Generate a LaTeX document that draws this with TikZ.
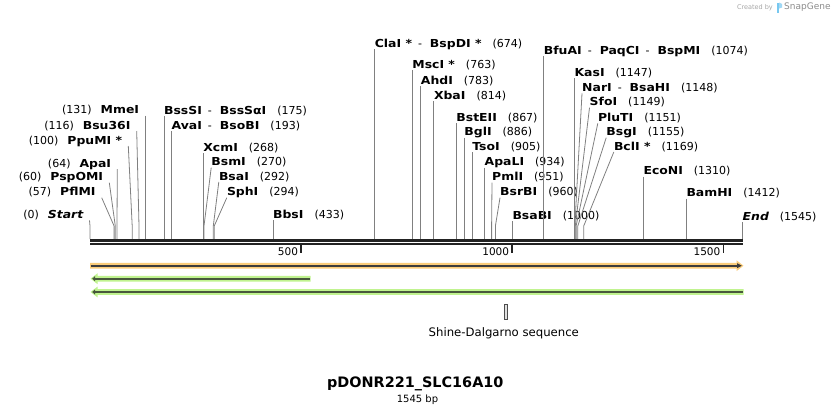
\documentclass[tikz,border=0pt]{standalone}
\usepackage{fontspec}
\setmainfont{DejaVu Sans}
\newfontfamily\enzfont{DejaVu Sans}[FakeStretch=1.13]
\newcommand\enz[1]{{\enzfont\bfseries #1}}
\newcommand\enzit[1]{{\enzfont\bfseries\itshape #1}}
\newcommand\gapN{\hspace{11pt}}
\newcommand\gapL{\hspace{9pt}}
\newcommand\sep{\hspace{6pt}-\hspace{8pt}}
\definecolor{featorange}{RGB}{250,204,122}
\definecolor{featgreen}{RGB}{192,243,143}
\definecolor{darkorange}{RGB}{60,60,60}
\definecolor{darkgreen}{RGB}{72,88,60}
\definecolor{mapblack}{RGB}{34,34,34}
\definecolor{logoblue}{RGB}{120,200,240}
% right-hand label: id, text, label x, baseline y, site x
\newcommand\cutR[5]{%
  \node[lab,anchor=base west] (l#1) at (#3,#4) {#2};
  \coordinate (b#1) at (#5,226);
  \coordinate (s#1) at (#5,239);
  \draw[cut] ([yshift=-2pt]l#1.base west) -- (b#1) -- (s#1);
}
% left-hand label: id, text, label right x, baseline y, site x
\newcommand\cutL[5]{%
  \node[lab,anchor=base east] (l#1) at (#3,#4) {#2};
  \coordinate (b#1) at (#5,226);
  \coordinate (s#1) at (#5,239);
  \draw[cut] ([xshift=6pt,yshift=-2pt]l#1.base east) -- (b#1) -- (s#1);
}
\begin{document}
\begin{tikzpicture}[x=1pt,y=-1pt,
  lab/.style={inner sep=0pt,font=\fontsize{11}{13}\selectfont},
  cut/.style={draw=black!50,line width=0.8pt},
  mapline/.style={draw=mapblack,line width=2.4pt},
  ticksty/.style={draw=mapblack,line width=1.8pt},
  ticklab/.style={inner sep=0pt,anchor=east,font=\fontsize{10.5}{12}\selectfont}]
\useasboundingbox (0,0) rectangle (834,415);

% left-side labels
\cutL{MmeI}{(131)\gapL\enz{MmeI}}{139.3}{113.5}{145.3}
\cutL{Bsu}{(116)\gapL\enz{Bsu36I}}{130.7}{129}{139.0}
\cutL{PpuMI}{(100)\gapL\enz{PpuMI *}}{122.3}{144}{132.2}
\cutL{ApaI}{(64)\gapL\enz{ApaI}}{111.3}{167}{117.0}
\cutL{PspOMI}{(60)\gapL\enz{PspOMI}}{103.3}{180.7}{115.3}
\cutL{PflMI}{(57)\gapL\enz{PflMI}}{95.7}{195.7}{114.1}
\cutL{Start}{(0)\gapL\enzit{Start}}{83.5}{218.3}{90}

% right-side labels
\cutR{BssSI}{\enz{BssSI}\sep\enz{BssSαI}\gapN(175)}{163.9}{114}{163.9}
\cutR{AvaI}{\enz{AvaI}\sep\enz{BsoBI}\gapN(193)}{171.5}{129}{171.5}
\cutR{XcmI}{\enz{XcmI}\gapN(268)}{203.2}{151.3}{203.2}
\cutR{BsmI}{\enz{BsmI}\gapN(270)}{211.2}{165.7}{204.0}
\cutR{BsaI}{\enz{BsaI}\gapN(292)}{218.8}{180}{213.3}
\cutR{SphI}{\enz{SphI}\gapN(294)}{226.8}{195.7}{214.2}
\cutR{BbsI}{\enz{BbsI}\gapN(433)}{272.9}{218}{272.9}
\cutR{ClaI}{\enz{ClaI *}\sep\enz{BspDI *}\gapN(674)}{374.6}{47.3}{374.6}
\cutR{MscI}{\enz{MscI *}\gapN(763)}{412.2}{68.3}{412.2}
\cutR{AhdI}{\enz{AhdI}\gapN(783)}{420.7}{84}{420.7}
\cutR{XbaI}{\enz{XbaI}\gapN(814)}{433.8}{99}{433.8}
\cutR{BstEII}{\enz{BstEII}\gapN(867)}{456.2}{121.3}{456.2}
\cutR{BglI}{\enz{BglI}\gapN(886)}{464.2}{135.7}{464.2}
\cutR{TsoI}{\enz{TsoI}\gapN(905)}{472.2}{150.3}{472.2}
\cutR{ApaLI}{\enz{ApaLI}\gapN(934)}{484.5}{165.7}{484.5}
\cutR{PmlI}{\enz{PmlI}\gapN(951)}{492.0}{180.7}{491.6}
\cutR{BsrBI}{\enz{BsrBI}\gapN(960)}{500.0}{195.7}{495.4}
\cutR{BsaBI}{\enz{BsaBI}\gapN(1000)}{512.3}{219}{512.3}
\cutR{BfuAI}{\enz{BfuAI}\sep\enz{PaqCI}\sep\enz{BspMI}\gapN(1074)}{543.6}{54}{543.6}
\cutR{KasI}{\enz{KasI}\gapN(1147)}{574.4}{76.3}{574.4}
\cutR{NarI}{\enz{NarI}\sep\enz{BsaHI}\gapN(1148)}{582.0}{91.3}{574.8}
\cutR{SfoI}{\enz{SfoI}\gapN(1149)}{589.5}{105.7}{575.3}
\cutR{PluTI}{\enz{PluTI}\gapN(1151)}{597.8}{121.3}{576.1}
\cutR{BsgI}{\enz{BsgI}\gapN(1155)}{606.2}{135.7}{577.8}
\cutR{BclI}{\enz{BclI *}\gapN(1169)}{613.8}{150}{583.7}
\cutR{EcoNI}{\enz{EcoNI}\gapN(1310)}{643.3}{174.7}{643.3}
\cutR{BamHI}{\enz{BamHI}\gapN(1412)}{686.3}{196.7}{686.3}
\cutR{End}{\enzit{End}\gapN(1545)}{742.5}{220}{742.5}

% map
\coordinate (ma0) at (90,240.3); \coordinate (ma1) at (743,240.3);
\coordinate (mb0) at (90,244.2); \coordinate (mb1) at (743,244.2);
\draw[mapline] (ma0) -- (ma1);
\draw[mapline,line width=2.2pt] (mb0) -- (mb1);
% ticks
\foreach \tx/\tl in {301.2/500,512.3/1000,723.5/1500}{
  \draw[ticksty] (\tx,245.3) -- (\tx,252.5);
  \node[ticklab] (t\tl) at (\tx-3,251.6) {\tl};
}

% orange feature (forward)
\fill[featorange] (90,262.8) -- (736.5,262.8) -- (736.5,260.3) -- (743.5,265.7)
  -- (736.5,271.1) -- (736.5,268.6) -- (90,268.6) -- cycle;
\draw[darkorange,line width=1.6pt] (90.5,265.7) -- (738,265.7);
\fill[darkorange] (737,263.2) -- (741.8,265.7) -- (737,268.2) -- cycle;

% green feature 1 (reverse)
\fill[featgreen] (310.7,275.8) -- (97.5,275.8) -- (97.5,273.3) -- (90.5,278.7)
  -- (97.5,284.1) -- (97.5,281.6) -- (310.7,281.6) -- cycle;
\draw[darkgreen,line width=1.6pt] (309.7,278.7) -- (94,278.7);
\fill[darkgreen] (95,276.2) -- (92.2,278.7) -- (95,281.2) -- cycle;

% green feature 2 (reverse)
\fill[featgreen] (743.5,289.1) -- (97.5,289.1) -- (97.5,286.6) -- (90.5,292)
  -- (97.5,297.4) -- (97.5,294.9) -- (743.5,294.9) -- cycle;
\draw[darkgreen,line width=1.6pt] (742.5,292) -- (94,292);
\fill[darkgreen] (95,289.5) -- (92.2,292) -- (95,294.5) -- cycle;

% Shine-Dalgarno
\node[draw=black!70,fill=black!12,line width=0.8pt,minimum width=3.5pt,minimum height=15pt,inner sep=0pt] (sd) at (506,312) {};
\node[inner sep=0pt,font=\fontsize{11.7}{13}\selectfont] (sdlab) at (503.8,333.5) {Shine-Dalgarno sequence};

% title
\node[inner sep=0pt,font=\fontsize{14.4}{16}\selectfont\bfseries] (title) at (415.3,384) {pDONR221\_SLC16A10};
\node[inner sep=0pt,font=\fontsize{10}{12}\selectfont] (bp) at (417.5,400) {1545 bp};

% watermark
\node[inner sep=0pt,anchor=east,text=black!35,font=\fontsize{6.5}{8}\selectfont] (cb) at (773,7.5) {Created by};
\fill[logoblue] (776.5,2.5) rectangle (779,12.5);
\fill[logoblue!70] (779,2.5) -- (782,4) -- (782,7.5) -- (779,8.5) -- cycle;
\node[inner sep=0pt,anchor=west,text=black!45,font=\fontsize{9}{10}\selectfont] (sg) at (784,7.5) {SnapGene};
\end{tikzpicture}
\end{document}
